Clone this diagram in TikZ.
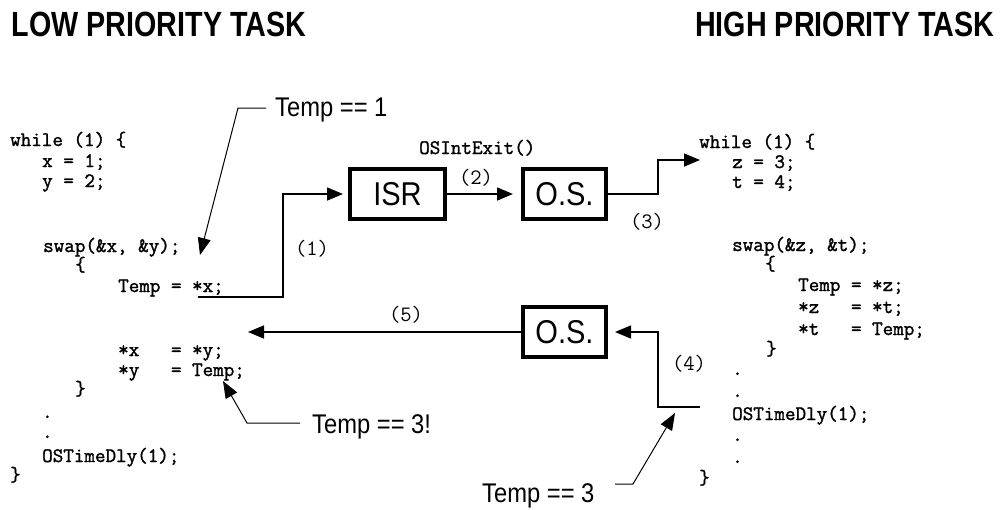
\documentclass[tikz,border=0pt]{standalone}
\usepackage{fontspec}
\usetikzlibrary{arrows.meta}
\newfontfamily\hdrfont[FakeStretch=0.82]{Liberation Sans}
\newfontfamily\lblfont[FakeStretch=0.88]{Liberation Sans}
\newcommand\heavytext{\special{pdf:literal direct 2 Tr 0.3 w}}
\newcommand\codefs{\ttfamily\fontsize{20.5}{20.5}\selectfont\heavytext}
\newcommand\numfs{\ttfamily\fontsize{22}{22}\selectfont}
\tikzset{
  code/.style={font=\codefs, inner sep=0pt, anchor=base west},
  hdr/.style={font=\hdrfont\bfseries\fontsize{35}{35}\selectfont, inner sep=0pt, anchor=base west},
  tlabel/.style={font=\lblfont\fontsize{27}{27}\selectfont, inner sep=0pt, anchor=base west},
  numlbl/.style={font=\numfs, inner sep=0pt, anchor=base},
  kbox/.style={draw, line width=4pt, inner sep=0pt, font=\lblfont\fontsize{33}{33}\selectfont},
  conn/.style={line width=1.5pt, -{Triangle[length=16pt,width=13pt]}},
  pointer/.style={line width=1pt, -{Triangle[length=17pt,width=13pt]}},
}
\begin{document}
\begin{tikzpicture}[x=1pt,y=-1pt]
\useasboundingbox (0,0) rectangle (1000,509);
% headers
\node[hdr] (hlow) at (11.5,36.7) {LOW PRIORITY TASK};
\node[hdr] (hhigh) at (695,36.7) {HIGH PRIORITY TASK};
% left code
\node[code] (l1) at (10,146) {while (1) \{};
\node[code] (l2) at (42,167) {x = 1;};
\node[code] (l3) at (42,187) {y = 2;};
\node[code] (l4) at (43,252) {swap(\&x, \&y);};
\node[code] (l5) at (75,271) {\{};
\node[code] (l6) at (118,292) {Temp = *x;};
\node[code] (l7) at (118,356) {*x\ \ \ = *y;};
\node[code] (l8) at (118,376) {*y\ \ \ = Temp;};
\node[code] (l9) at (75,395) {\}};
\node[code] (l10) at (42,418) {.};
\node[code] (l11) at (42,438) {.};
\node[code] (l12) at (42,462) {OSTimeDly(1);};
\node[code] (l13) at (10,481) {\}};
% right code
\node[code] (r1) at (699,148) {while (1) \{};
\node[code] (r2) at (732,168) {z = 3;};
\node[code] (r3) at (732,188) {t = 4;};
\node[code] (r4) at (732,251) {swap(\&z, \&t);};
\node[code] (r5) at (765,270) {\{};
\node[code] (r6) at (798,291) {Temp = *z;};
\node[code] (r7) at (798,313) {*z\ \ \ = *t;};
\node[code] (r8) at (798,335) {*t\ \ \ = Temp;};
\node[code] (r9) at (766,355) {\}};
\node[code] (r10) at (732,375) {.};
\node[code] (r11) at (732,397) {.};
\node[code] (r12) at (732,420) {OSTimeDly(1);};
\node[code] (r13) at (732,441) {.};
\node[code] (r14) at (732,463) {.};
\node[code] (r15) at (699,484) {\}};
% boxes
\node[kbox, minimum width=95pt, minimum height=50pt] (isr) at (397.5,194) {ISR};
\node[kbox, minimum width=83pt, minimum height=50pt] (os1) at (564.5,194) {O.S.};
\node[kbox, minimum width=83pt, minimum height=50pt] (os2) at (564.5,332) {O.S.};
\node[code] (oie) at (419,154) {OSIntExit()};
% step labels
\node[numlbl] (n1) at (312,255) {(1)};
\node[numlbl] (n2) at (476,184) {(2)};
\node[numlbl] (n3) at (647,228) {(3)};
\node[numlbl] (n4) at (689,370) {(4)};
\node[numlbl] (n5) at (406,321) {(5)};
% connectors
\coordinate (s1) at (198,297);
\coordinate (t3) at (700,160);
\coordinate (s4) at (700,407);
\coordinate (t5) at (248,332);
\draw[conn, shorten >=5pt] (s1) -- (283,297) |- (isr.west);
\draw[conn, shorten >=8pt] (isr.east) -- (os1.west);
\draw[conn] (os1.east) -- (658,194) |- (t3);
\draw[conn, shorten >=7pt] (s4) -- (658,407) |- (os2.east);
\draw[conn] (os2.west) -- (t5);
% temp labels and pointers
\node[tlabel] (tp1) at (275,116.7) {Temp == 1};
\node[tlabel] (tp3x) at (312,433) {Temp == 3!};
\node[tlabel] (tp3) at (482,502) {Temp == 3};
\coordinate (p1) at (200,255);
\coordinate (p3x) at (223,381);
\coordinate (p3) at (675,413);
\draw[pointer] (266,108) -- (238,108) -- (p1);
\draw[pointer] (300,423) -- (247,423) -- (p3x);
\draw[pointer] (615,484) -- (633,484) -- (p3);
\end{tikzpicture}
\end{document}
